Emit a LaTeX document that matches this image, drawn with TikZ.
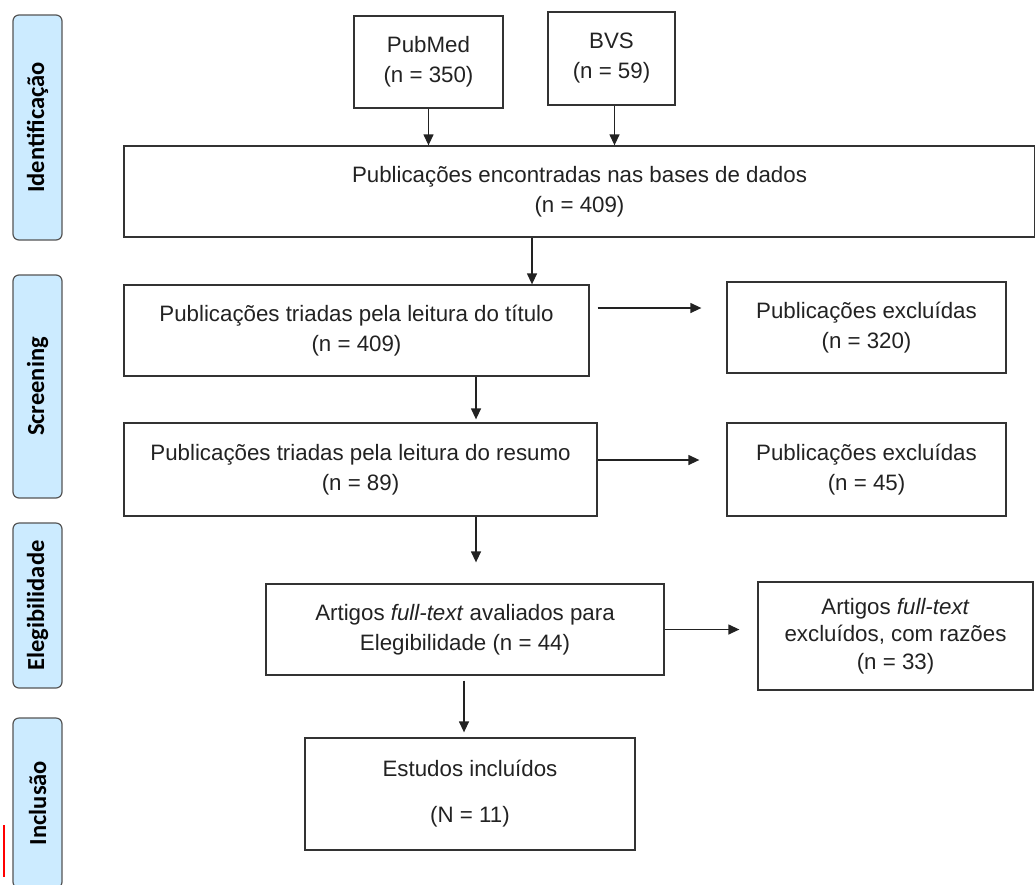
\documentclass[tikz,border=0pt]{standalone}
\usepackage{fontspec}
\setmainfont{Liberation Sans}
\newfontfamily\phfont{Carlito}
\usetikzlibrary{arrows.meta,positioning,calc}
\definecolor{ink}{HTML}{222222}
\definecolor{edge}{HTML}{333333}
\definecolor{phase}{HTML}{CCEBFF}
\definecolor{phaseedge}{HTML}{555555}
\definecolor{redmark}{HTML}{FF0000}

\begin{document}
\begin{tikzpicture}[x=1pt,y=-1pt,
   b/.style={draw=edge,line width=1.3pt,inner sep=0pt,align=center,text=ink,
     font=\fontsize{22.3}{30}\selectfont},
   ph/.style={draw=phaseedge,line width=1.2pt,fill=phase,rounded corners=6pt,
     rotate=90,minimum height=49pt,inner sep=0pt,font=\phfont\bfseries\fontsize{24.5}{26}\selectfont},
   a/.style={-{Triangle[length=11pt,width=10pt]},line width=1.3pt,ink}]
  \useasboundingbox (0,0) rectangle (1035,884);
  % phases
  \node[ph,minimum width=225pt] (idf) at (37.5,127.5) {Identificação};
  \node[ph,minimum width=223pt] (scr) at (37.5,386.5) {Screening};
  \node[ph,minimum width=165pt] (ele) at (37.5,605.5) {Elegibilidade};
  \node[ph,minimum width=170pt] (inl) at (37.5,803) {Inclusão};
  \draw[draw=redmark,line width=1.6pt] (3.8,825) -- (3.8,877);
  % boxes
  \node[b,minimum width=149pt,minimum height=92pt] (pub) at (428.5,62) {PubMed\\(n = 350)};
  \node[b,minimum width=127pt,minimum height=93pt] (bvs) at (611.5,58.5) {BVS\\(n = 59)};
  \node[b,minimum width=911pt,minimum height=91pt] (enc) at (579.5,191.5)
    {Publicações encontradas nas bases de dados\\(n = 409)};
  \node[b,minimum width=465pt,minimum height=91pt] (tit) at (356.5,330.5)
    {Publicações triadas pela leitura do título\\(n = 409)};
  \node[b,minimum width=279pt,minimum height=91pt] (ex1) at (866.5,327.5)
    {Publicações excluídas\\(n = 320)};
  \node[b,minimum width=473pt,minimum height=93pt] (res) at (360.5,469.5)
    {Publicações triadas pela leitura do resumo\\(n = 89)};
  \node[b,minimum width=279pt,minimum height=93pt] (ex2) at (866.5,469.5)
    {Publicações excluídas\\(n = 45)};
  \node[b,minimum width=398pt,minimum height=91pt] (ftx) at (465,629.5)
    {Artigos \textit{full-text} avaliados para\\Elegibilidade (n = 44)};
  \node[b,minimum width=275pt,minimum height=108pt,font=\fontsize{22.3}{27.5}\selectfont] (ex3) at (895.5,636)
    {Artigos \textit{full-text}\\excluídos, com razões\\(n = 33)};
  \node[b,minimum width=330pt,minimum height=112pt] (est) at (470,794)
    {Estudos incluídos\\[16pt](N = 11)};
  % arrows
  \draw[a] (pub.south) -- (pub.south |- enc.north);
  \draw[a] ([xshift=3pt]bvs.south) -- ([xshift=3pt]bvs.south |- enc.north);
  \draw[a] ([xshift=-47.5pt]enc.south) -- ([xshift=-47.5pt]enc.south |- tit.north);
  \draw[a,shorten <=8pt,shorten >=25pt] ([yshift=22.5pt]tit.east) -- ([yshift=22.5pt]tit.east -| ex1.west);
  \draw[a,shorten >=3pt] ([xshift=119.5pt]tit.south) -- ([xshift=119.5pt]tit.south |- res.north);
  \draw[a,shorten >=27pt] ([yshift=9.5pt]res.east) -- ([yshift=9.5pt]res.east -| ex2.west);
  \draw[a,shorten >=21pt] ([xshift=115.5pt]res.south) -- ([xshift=115.5pt]res.south |- ftx.north);
  \draw[a,shorten >=18pt] (ftx.east) -- (ftx.east -| ex3.west);
  \draw[a,shorten <=5pt,shorten >=5pt] ([xshift=-1pt]ftx.south) -- ([xshift=-1pt]ftx.south |- est.north);
\end{tikzpicture}
\end{document}
